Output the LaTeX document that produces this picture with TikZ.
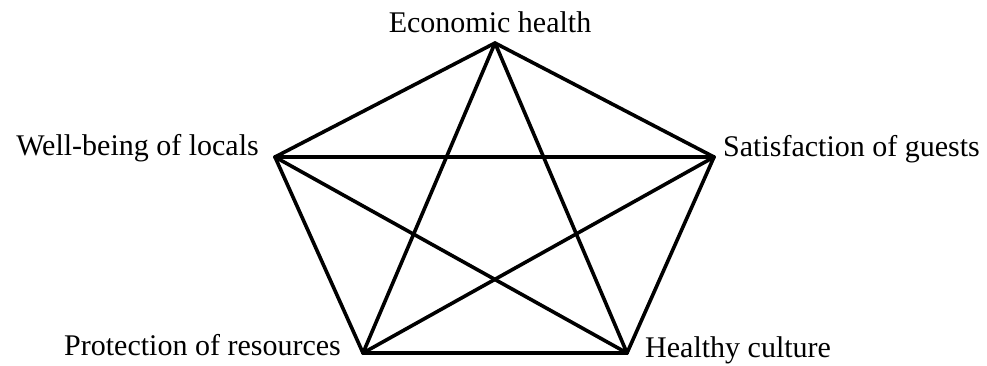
\documentclass[tikz,border=0pt]{standalone}
\usepackage{fontspec}
\setmainfont{Liberation Serif}
\begin{document}
\begin{tikzpicture}[x=1pt,y=-1pt,
  edge/.style={line width=3.6pt,line cap=round,black},
  lab/.style={inner sep=0pt,font=\fontsize{30}{32}\selectfont}]
\useasboundingbox (0,0) rectangle (987,365);
\fill[white] (0,0) rectangle (987,365);
\coordinate (T) at (495,43);
\coordinate (L) at (275,157);
\coordinate (R) at (714,157);
\coordinate (BL) at (363,353);
\coordinate (BR) at (627,353);
\foreach \a/\b in {T/L,T/R,L/BL,R/BR,BL/BR,T/BL,T/BR,L/R,L/BR,R/BL}
  \draw[edge] (\a) -- (\b);
\node[lab,anchor=base] (eh) at (490,32) {Economic health};
\node[lab,anchor=base east] (wl) at (259,155) {Well-being of locals};
\node[lab,anchor=base west] (sg) at (723,156) {Satisfaction of guests};
\node[lab,anchor=base east] (pr) at (341,355) {Protection of resources};
\node[lab,anchor=base west] (hc) at (645,357) {Healthy culture};
\end{tikzpicture}
\end{document}
